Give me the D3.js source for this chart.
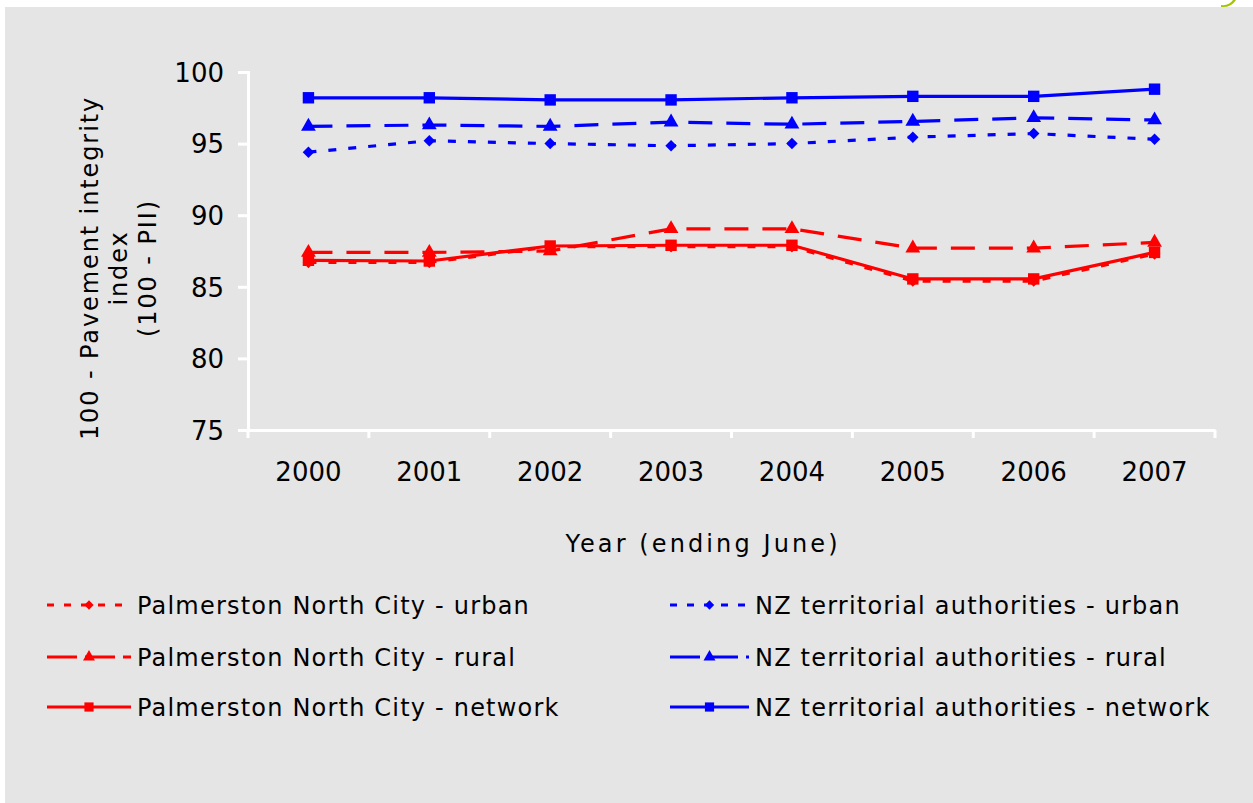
<!DOCTYPE html>
<html>
<head>
<meta charset="utf-8">
<script src="https://cdn.jsdelivr.net/npm/d3@7"></script>
<style>
  body { margin: 0; background: #ffffff; }
  svg text { font-family: "DejaVu Sans", Verdana, sans-serif; fill: #000; }
</style>
</head>
<body>
<div id="chart"></div>
<script>
// YEARS ON THE X AXIS
var years = ['2000', '2001', '2002', '2003', '2004', '2005', '2006', '2007'];
var yTicks = [75, 80, 85, 90, 95, 100];

// SERIES VALUES (100 - PII)
var pncUrban   = [86.7, 86.7, 87.8, 87.8, 87.8, 85.4, 85.4, 87.3];
var pncRural   = [87.4, 87.4, 87.5, 89.05, 89.05, 87.7, 87.7, 88.1];
var pncNetwork = [86.85, 86.8, 87.85, 87.9, 87.9, 85.55, 85.55, 87.4];
var nzUrban    = [94.4, 95.2, 95.0, 94.85, 95.0, 95.45, 95.7, 95.3];
var nzRural    = [96.2, 96.3, 96.2, 96.5, 96.35, 96.55, 96.8, 96.65];
var nzNetwork  = [98.2, 98.2, 98.05, 98.05, 98.2, 98.3, 98.3, 98.8];

var seriesNames = [
   'Palmerston North City - urban', 'Palmerston North City - rural', 'Palmerston North City - network',
   'NZ territorial authorities - urban', 'NZ territorial authorities - rural', 'NZ territorial authorities - network'
];

// SETTINGS
var settings = {
   width: 1253,
   height: 803,
   plot: { left: 248, right: 1215, top: 72, bottom: 430 },
   red: '#ff0000',
   blue: '#0000ff',
   panel: '#e5e5e5'
};

// STYLE PER LINE KIND
var kinds = {
   urban:   { dash: '8,12',  legendDash: '7,10',  symbol: d3.symbolDiamond2, size: 85 },
   rural:   { dash: '24,14', legendDash: '30,8',  symbol: d3.symbolTriangle,  size: 95 },
   network: { dash: null,    legendDash: null,    symbol: d3.symbolSquare,    size: 130 }
};

var series = [
   { name: seriesNames[0], values: pncUrban,   color: settings.red,  kind: 'urban' },
   { name: seriesNames[1], values: pncRural,   color: settings.red,  kind: 'rural' },
   { name: seriesNames[2], values: pncNetwork, color: settings.red,  kind: 'network' },
   { name: seriesNames[3], values: nzUrban,    color: settings.blue, kind: 'urban' },
   { name: seriesNames[4], values: nzRural,    color: settings.blue, kind: 'rural' },
   { name: seriesNames[5], values: nzNetwork,  color: settings.blue, kind: 'network' }
];

var svg = d3.select('#chart').append('svg')
   .attr('width', settings.width)
   .attr('height', settings.height);

// GREY PANEL
svg.append('rect')
   .attr('x', 5).attr('y', 7)
   .attr('width', settings.width - 5).attr('height', settings.height - 7)
   .attr('fill', settings.panel);

// LITTLE GREEN MARK TOP RIGHT
svg.append('path')
   .attr('d', 'M1221,5 Q1229,6 1233,0 L1236,0 Q1231,8 1221,7 Z')
   .attr('fill', '#a8c400');

// SCALES
var x = d3.scaleBand()
   .domain(years)
   .range([settings.plot.left, settings.plot.right]);

var y = d3.scaleLinear()
   .domain([75, 100])
   .range([settings.plot.bottom, settings.plot.top]);

// Y AXIS
var yAxis = svg.append('g')
   .attr('transform', 'translate(' + settings.plot.left + ',0)')
   .call(d3.axisLeft(y).tickValues(yTicks).tickSize(10).tickPadding(14));
yAxis.selectAll('path, line').attr('stroke', '#ffffff').attr('stroke-width', 3);
yAxis.selectAll('text').style('font-size', '26px').attr('dy', '0.36em');

// X AXIS - LABELS AT CENTRES, TICKS ON BOUNDARIES
var xAxis = svg.append('g')
   .attr('transform', 'translate(0,' + settings.plot.bottom + ')')
   .call(d3.axisBottom(x).tickSize(0).tickPadding(42).tickSizeOuter(0));
xAxis.select('.domain').attr('stroke', '#ffffff').attr('stroke-width', 3);
xAxis.selectAll('text').style('font-size', '26px').attr('dy', '0.35em');

xAxis.selectAll('.bound').data(years.concat(['end'])).enter()
   .append('line')
   .attr('x1', (d, i) => settings.plot.left + i * x.step())
   .attr('x2', (d, i) => settings.plot.left + i * x.step())
   .attr('y1', 0).attr('y2', 8)
   .attr('stroke', '#ffffff').attr('stroke-width', 3);

// AXIS TITLES
svg.append('text')
   .attr('x', 703)
   .attr('y', 552)
   .attr('text-anchor', 'middle')
   .style('font-size', '24px')
   .style('letter-spacing', '3.1px')
   .text('Year (ending June)');

var yTitle = svg.append('text')
   .attr('transform', 'translate(98,268) rotate(-90)')
   .attr('text-anchor', 'middle')
   .style('font-size', '24px')
   .style('letter-spacing', '1.9px');
['100 - Pavement integrity', 'index', '(100 - PII)'].forEach((t, i) => {
   yTitle.append('tspan').attr('x', 0).attr('dy', i == 0 ? 0 : 29).text(t);
});

// LINES
var line = d3.line()
   .x((d, i) => x(years[i]) + x.bandwidth() / 2)
   .y((d) => y(d));

var plot = svg.append('g');

series.forEach((s) => {
   var k = kinds[s.kind];
   plot.append('path')
      .attr('d', line(s.values))
      .attr('fill', 'none')
      .attr('stroke', s.color)
      .attr('stroke-width', 3.2)
      .attr('stroke-dasharray', k.dash);

   plot.selectAll(null).data(s.values).enter()
      .append('path')
      .attr('d', d3.symbol().type(k.symbol).size(k.size))
      .attr('transform', (d, i) => 'translate(' + (x(years[i]) + x.bandwidth() / 2) + ',' + y(d) + ')')
      .attr('fill', s.color);
});

// LEGEND
var legendPos = [
   { lx: 47, tx: 137, y: 605 }, { lx: 47, tx: 137, y: 657 }, { lx: 47, tx: 137, y: 707 },
   { lx: 670, tx: 755, y: 605 }, { lx: 670, tx: 755, y: 657 }, { lx: 670, tx: 755, y: 707 }
];

series.forEach((s, i) => {
   var k = kinds[s.kind];
   var p = legendPos[i];
   var g = svg.append('g');
   g.append('line')
      .attr('x1', p.lx).attr('x2', p.tx - 6)
      .attr('y1', p.y).attr('y2', p.y)
      .attr('stroke', s.color)
      .attr('stroke-width', 3.2)
      .attr('stroke-dasharray', k.legendDash);
   g.append('path')
      .attr('d', d3.symbol().type(k.symbol).size(k.size * 0.65))
      .attr('transform', 'translate(' + ((p.lx + p.tx - 6) / 2) + ',' + p.y + ')')
      .attr('fill', s.color);
   g.append('text')
      .attr('x', p.tx).attr('y', p.y + 9)
      .style('font-size', '24px')
      .style('letter-spacing', '1.2px')
      .text(s.name);
});
</script>
</body>
</html>
